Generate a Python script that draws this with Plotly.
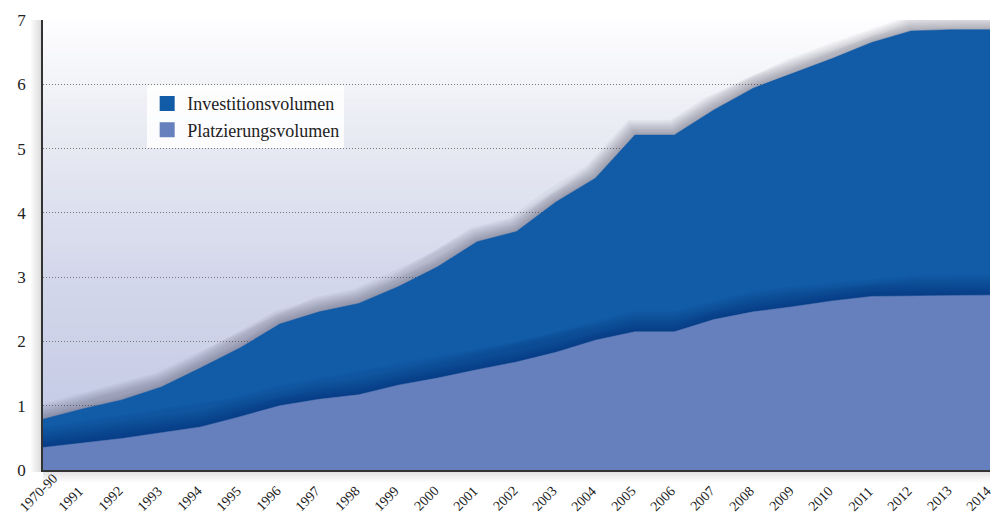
import plotly.graph_objects as go

categories = ["1970-90", "1991", "1992", "1993", "1994", "1995", "1996", "1997",
              "1998", "1999", "2000", "2001", "2002", "2003", "2004", "2005",
              "2006", "2007", "2008", "2009", "2010", "2011", "2012", "2013", "2014"]

investitionsvolumen = [0.79, 0.95, 1.09, 1.29, 1.59, 1.90, 2.27, 2.46, 2.59, 2.85,
                       3.16, 3.55, 3.71, 4.17, 4.54, 5.21, 5.21, 5.60, 5.94, 6.17,
                       6.40, 6.65, 6.83, 6.85, 6.85]

platzierungsvolumen = [0.35, 0.42, 0.49, 0.58, 0.67, 0.83, 1.00, 1.10, 1.17, 1.32,
                       1.43, 1.56, 1.68, 1.83, 2.02, 2.15, 2.15, 2.34, 2.46, 2.54,
                       2.63, 2.70, 2.71, 2.72, 2.72]

y_ticks = [0, 1, 2, 3, 4, 5, 6, 7]

COL_INV = "#115BA7"
COL_PLA = "#6580BD"
FONT = "Liberation Serif"

W, H = 993, 520
ML, MR, MT, MB = 43, 3, 20, 50
PW, PH = W - ML - MR, H - MT - MB

x_idx = list(range(len(categories)))

fig = go.Figure()

# soft drop shadow above the Investitionsvolumen area
for w in range(30, 2, -3):
    fig.add_trace(go.Scatter(x=x_idx, y=investitionsvolumen, mode="lines",
                             line=dict(color="rgba(45,45,65,0.045)", width=w),
                             hoverinfo="skip", showlegend=False))

fig.add_trace(go.Scatter(x=x_idx, y=investitionsvolumen, mode="lines",
                         fill="tozeroy", fillcolor=COL_INV,
                         line=dict(color=COL_INV, width=0.5),
                         name="Investitionsvolumen", showlegend=False))

# dark band above the Platzierungsvolumen area
for w in range(40, 2, -4):
    fig.add_trace(go.Scatter(x=x_idx, y=platzierungsvolumen, mode="lines",
                             line=dict(color="rgba(0,15,50,0.032)", width=w),
                             hoverinfo="skip", showlegend=False))

fig.add_trace(go.Scatter(x=x_idx, y=platzierungsvolumen, mode="lines",
                         fill="tozeroy", fillcolor=COL_PLA,
                         line=dict(color=COL_PLA, width=0.5),
                         name="Platzierungsvolumen", showlegend=False))

# legend entries
for name, col in [("Investitionsvolumen", COL_INV), ("Platzierungsvolumen", COL_PLA)]:
    fig.add_trace(go.Scatter(x=[None], y=[None], mode="markers", name=name,
                             marker=dict(symbol="square", size=15, color=col)))

# background gradient (white at top -> lavender at bottom)
stops = [(0.0, (192, 199, 228)), (0.45, (212, 216, 235)), (0.75, (233, 235, 243)), (1.0, (254, 254, 255))]
def lerp(t):
    for (t0, c0), (t1, c1) in zip(stops[:-1], stops[1:]):
        if t0 <= t <= t1:
            f = (t - t0) / (t1 - t0)
            return tuple(round(c0[i] + (c1[i] - c0[i]) * f) for i in range(3))
    return stops[-1][1]

shapes = []
N = 70
for k in range(N):
    t = (k + 0.5) / N
    r, g, b = lerp(t)
    shapes.append(dict(type="rect", xref="paper", yref="paper",
                       x0=0, x1=1, y0=k / N, y1=(k + 1) / N + 0.002,
                       fillcolor=f"rgb({r},{g},{b})", line=dict(width=0),
                       layer="below"))

# soft frame shadows left of and below the plot
for k in range(8):
    a = 0.025 * (k + 1)
    shapes.append(dict(type="rect", xref="paper", yref="paper",
                       x0=-(8 - k) * 1.5 / PW, x1=-(7 - k) * 1.5 / PW, y0=-2 / PH, y1=1,
                       fillcolor=f"rgba(60,60,70,{a})", line=dict(width=0), layer="below"))
    shapes.append(dict(type="rect", xref="paper", yref="paper",
                       x0=0, x1=1, y0=-(8 - k) * 1.5 / PH, y1=-(7 - k) * 1.5 / PH,
                       fillcolor=f"rgba(60,60,70,{a * 0.8})", line=dict(width=0), layer="below"))

# rotated category labels under the x axis
annotations = [dict(x=i, xref="x", y=0, yref="paper", text=c, textangle=-45,
                    showarrow=False, xanchor="left", yanchor="bottom",
                    xshift=-29, yshift=-47,
                    font=dict(family=FONT, size=14, color="#222"))
               for i, c in zip(x_idx, categories)]

fig.update_layout(
    width=W, height=H,
    margin=dict(l=ML, r=MR, t=MT, b=MB),
    paper_bgcolor="white", plot_bgcolor="white",
    shapes=shapes, annotations=annotations,
    font=dict(family=FONT, color="#222"),
    showlegend=True,
    legend=dict(x=0.110, y=0.855, xanchor="left", yanchor="top",
                bgcolor="rgba(255,255,255,0.85)", borderwidth=0,
                font=dict(family=FONT, size=18, color="#222"),
                tracegroupgap=0),
    xaxis=dict(range=[0, len(categories) - 1], tickmode="array",
               tickvals=x_idx, ticktext=categories, showticklabels=False,
               showgrid=False, zeroline=False, showline=True,
               linecolor="#333", linewidth=1.5, ticks="", automargin=False),
    yaxis=dict(range=[0, 7], tickmode="array", tickvals=y_ticks,
               tickfont=dict(family=FONT, size=17, color="#222"),
               showgrid=True, gridcolor="#777", griddash="1px,2px", gridwidth=1,
               zeroline=False, showline=True, linecolor="#333", linewidth=1.5,
               ticks="", ticklabelstandoff=12, automargin=False),
)

fig.write_html("out.html", config={"displayModeBar": False},
               post_script="document.body.style.margin='0';document.body.style.overflow='hidden';")
